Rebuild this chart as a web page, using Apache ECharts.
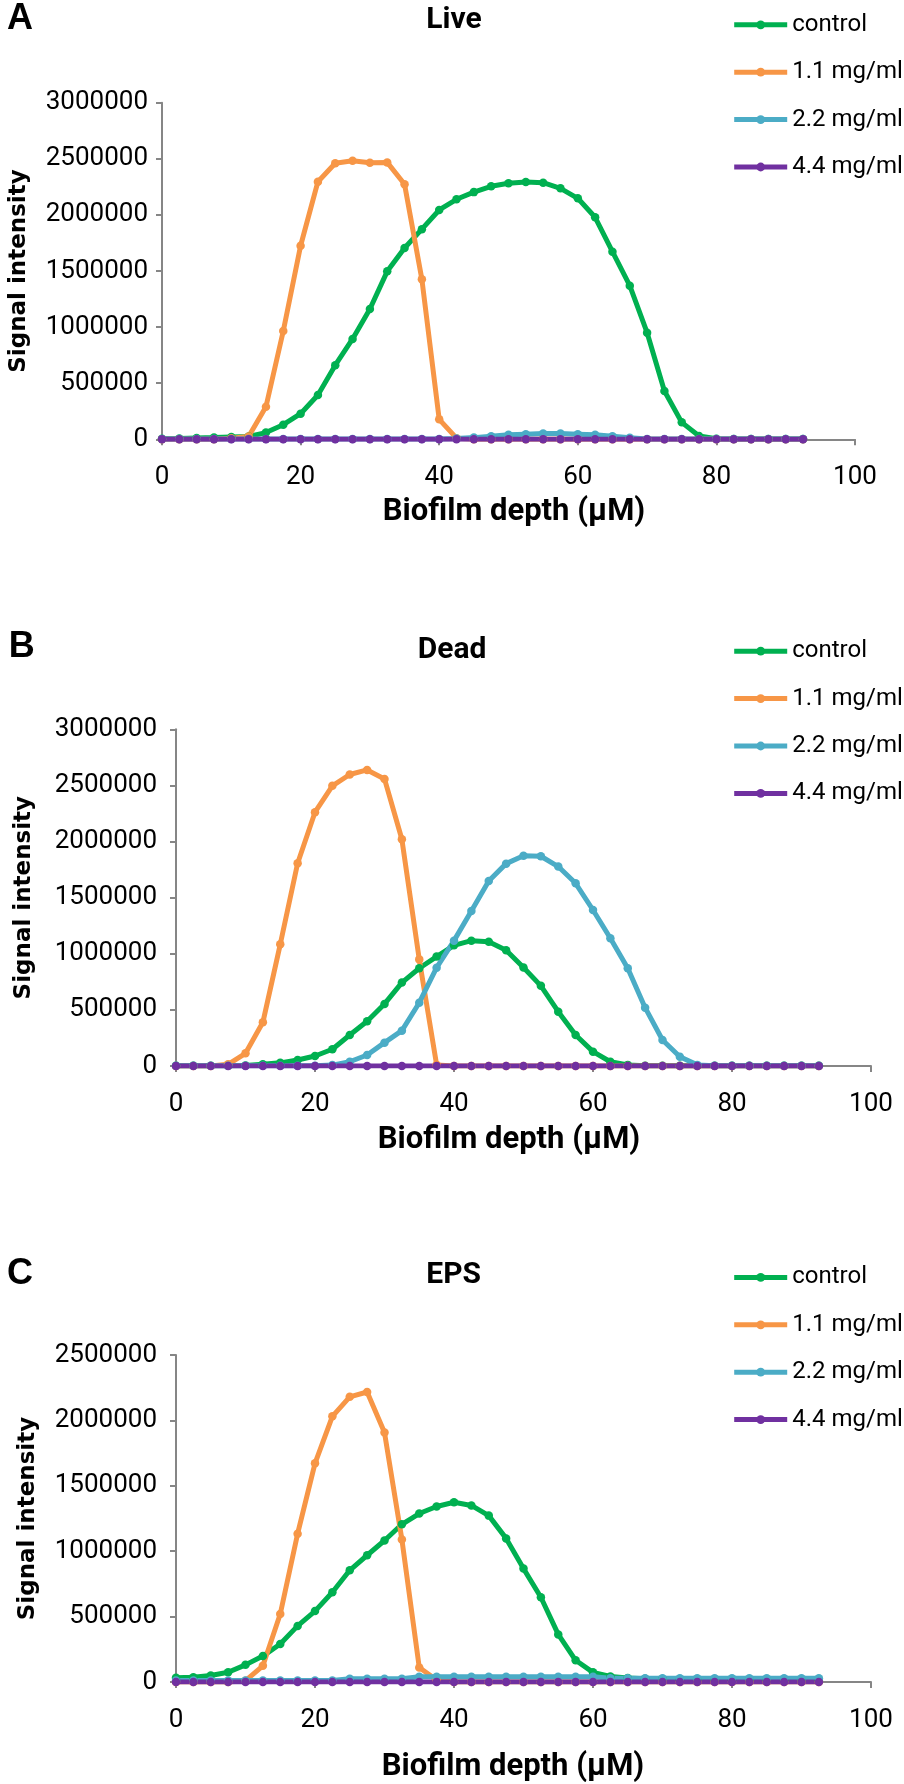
<!DOCTYPE html>
<html>
<head>
<meta charset="utf-8">
<script src="https://cdn.jsdelivr.net/npm/echarts@6/dist/echarts.min.js"></script>
<style>
html,body{margin:0;padding:0;background:#fff;}
#chart{width:904px;height:1784px;}
</style>
</head>
<body>
<div id="chart"></div>
<script>
// ---------------- data ----------------
const depth = [0,2.5,5,7.5,10,12.5,15,17.5,20,22.5,25,27.5,30,32.5,35,37.5,40,42.5,45,47.5,50,52.5,55,57.5,60,62.5,65,67.5,70,72.5,75,77.5,80,82.5,85,87.5,90,92.5];
const seriesNames = ['control','1.1 mg/ml','2.2 mg/ml','4.4 mg/ml'];
const panelTitles = ['Live','Dead','EPS'];
const panelLetters = ['A','B','C'];
const xTicks = [0,20,40,60,80,100];
const yMaxA = 3000000, yMaxB = 3000000, yMaxC = 2500000, yStep = 500000;

// A - Live
const liveControl = [5000,8000,12000,15000,20000,25000,60000,130000,228000,395000,660000,894000,1161000,1497000,1705000,1873000,2044000,2139000,2203000,2255000,2282000,2294000,2287000,2237000,2148000,1979000,1672000,1369000,950000,431000,151000,30000,5000,2000,2000,2000,2000,2000];
const live11 = [0,0,0,0,10000,25000,290000,965000,1725000,2296000,2460000,2483000,2465000,2468000,2273000,1426000,178000,10000,0,0,0,0,0,0,0,0,0,0,0,0,0,0,0,0,0,0,0,0];
const live22 = [3000,3000,3000,3000,3000,3000,3000,3000,3000,3000,3000,3000,3000,3000,3000,3000,3000,8000,15000,28000,40000,46000,52000,52000,46000,40000,28000,14000,3000,3000,3000,3000,3000,3000,3000,3000,3000,3000];
const live44 = [0,0,0,0,0,0,0,0,0,0,0,0,0,0,0,0,0,0,0,0,0,0,0,0,0,0,0,0,0,0,0,0,0,0,0,0,0,0];

// B - Dead
const deadControl = [2000,2000,2000,2000,5000,15000,28000,53000,89000,149000,276000,398000,553000,743000,871000,975000,1075000,1117000,1107000,1031000,877000,714000,484000,276000,128000,38000,10000,2000,2000,2000,2000,2000,2000,2000,2000,2000,2000,2000];
const dead11 = [0,0,0,15000,113000,389000,1084000,1806000,2261000,2496000,2597000,2638000,2558000,2020000,950000,10000,0,0,0,0,0,0,0,0,0,0,0,0,0,0,0,0,0,0,0,0,0,0];
const dead22 = [2000,2000,2000,2000,2000,2000,2000,2000,3000,8000,38000,98000,208000,315000,564000,876000,1117000,1381000,1649000,1803000,1873000,1869000,1777000,1628000,1390000,1138000,871000,520000,232000,83000,10000,2000,2000,2000,2000,2000,2000,2000];
const dead44 = [0,0,0,0,0,0,0,0,0,0,0,0,0,0,0,0,0,0,0,0,0,0,0,0,0,0,0,0,0,0,0,0,0,0,0,0,0,0];

// C - EPS
const epsControl = [32000,37000,50000,74000,131000,198000,290000,429000,542000,686000,854000,969000,1082000,1206000,1288000,1342000,1374000,1350000,1272000,1098000,867000,648000,364000,166000,74000,42000,30000,25000,22000,20000,18000,16000,15000,14000,13000,12000,11000,10000];
const eps11 = [0,0,0,0,10000,124000,520000,1134000,1672000,2031000,2180000,2217000,1907000,1090000,111000,15000,0,0,0,0,0,0,0,0,0,0,0,0,0,0,0,0,0,0,0,0,0,0];
const eps22 = [12000,12000,12000,12000,12000,12000,12000,12000,12000,12000,25000,25000,25000,25000,40000,40000,40000,40000,40000,40000,40000,40000,40000,40000,40000,28000,28000,28000,28000,28000,28000,28000,28000,28000,28000,28000,28000,28000];
const eps44 = [0,0,0,0,0,0,0,0,0,0,0,0,0,0,0,0,0,0,0,0,0,0,0,0,0,0,0,0,0,0,0,0,0,0,0,0,0,0];

// ---------------- styling / layout ----------------
const colors = ['#00B050','#F79646','#4BACC6','#7030A0'];
const panelData = [
  [liveControl, live11, live22, live44],
  [deadControl, dead11, dead22, dead44],
  [epsControl, eps11, eps22, eps44]
];
const yMax = [yMaxA, yMaxB, yMaxC];
const grids = [
  {left:160, top:102.7, width:695, height:336.6},
  {left:176, top:729.3, width:695, height:336.7},
  {left:176, top:1355, width:695, height:336.7}
];
const yLabelMargin = [14, 19, 19];
const yNameGap = [131, 140, 136];
const xNameGap = [57, 59, 70];
const xNamePad = [[0,0,0,11],[0,29,0,0],[0,21,0,0]];
const letterPos = [[7,19],[8.7,647],[7,1274]];
const titlePos = [[454,20],[452,650],[453.6,1275]];
const legendTop = [10.8, 637.2, 1263.4];

const axisColor = '#868686';
const font = 'Roboto, "Noto Sans", sans-serif';

const xAxes = [], yAxes = [], series = [], titles = [], legends = [];
for (let p = 0; p < 3; p++) {
  xAxes.push({
    gridIndex: p, type: 'value', min: xTicks[0], max: xTicks[xTicks.length-1], interval: 20,
    name: 'Biofilm depth (\u00b5M)', nameLocation: 'middle', nameGap: xNameGap[p],
    nameTextStyle: {fontFamily: font, fontWeight: 'bold', fontSize: 31, color: '#000', padding: xNamePad[p]},
    axisLine: {show: true, onZero: false, lineStyle: {color: axisColor, width: 2}},
    axisTick: {show: true, inside: false, length: 6, lineStyle: {color: axisColor, width: 2}},
    axisLabel: {fontFamily: font, fontSize: 26, color: '#000', margin: 25},
    splitLine: {show: false}
  });
  yAxes.push({
    gridIndex: p, type: 'value', min: 0, max: yMax[p], interval: yStep,
    name: 'Signal intensity', nameLocation: 'middle', nameGap: yNameGap[p],
    nameTextStyle: {fontFamily: '"DejaVu Sans", sans-serif', fontWeight: 'bold', fontSize: 23, color: '#000'},
    axisLine: {show: true, lineStyle: {color: axisColor, width: 2}},
    axisTick: {show: true, inside: false, length: 6, lineStyle: {color: axisColor, width: 2}},
    axisLabel: {fontFamily: font, fontSize: 26, color: '#000', margin: yLabelMargin[p], formatter: v => String(v)},
    splitLine: {show: false}
  });
  for (let s = 0; s < 4; s++) {
    const vals = panelData[p][s];
    series.push({
      type: 'line', name: seriesNames[s], xAxisIndex: p, yAxisIndex: p,
      data: depth.map((d, i) => [d, vals[i]]),
      symbol: 'circle', symbolSize: 8.5, showAllSymbol: true,
      lineStyle: {color: colors[s], width: 5},
      itemStyle: {color: colors[s]},
      emphasis: {disabled: true},
      animation: false
    });
  }
  titles.push({
    text: panelLetters[p], left: letterPos[p][0], top: letterPos[p][1], padding: 0,
    textAlign: 'left', textVerticalAlign: 'middle',
    textStyle: {fontFamily: '"Liberation Sans", Arial, sans-serif', fontWeight: 'bold', fontSize: 36, color: '#000'}
  });
  titles.push({
    text: panelTitles[p], left: titlePos[p][0], top: titlePos[p][1], padding: 0,
    textAlign: 'center', textVerticalAlign: 'middle',
    textStyle: {fontFamily: font, fontWeight: 'bold', fontSize: 30, color: '#000'}
  });
  legends.push({
    orient: 'vertical', left: 731.7, top: legendTop[p], padding: 0,
    itemWidth: 53, itemHeight: 11, itemGap: 19.4, selectedMode: false,
    data: seriesNames,
    lineStyle: {width: 5},
    textStyle: {fontFamily: font, fontSize: 24, color: '#000', lineHeight: 28}
  });
}

const chart = echarts.init(document.getElementById('chart'), null, {renderer: 'canvas'});
chart.setOption({
  backgroundColor: '#fff',
  animation: false,
  title: titles,
  legend: legends,
  grid: grids,
  xAxis: xAxes,
  yAxis: yAxes,
  series: series
});
</script>
</body>
</html>
